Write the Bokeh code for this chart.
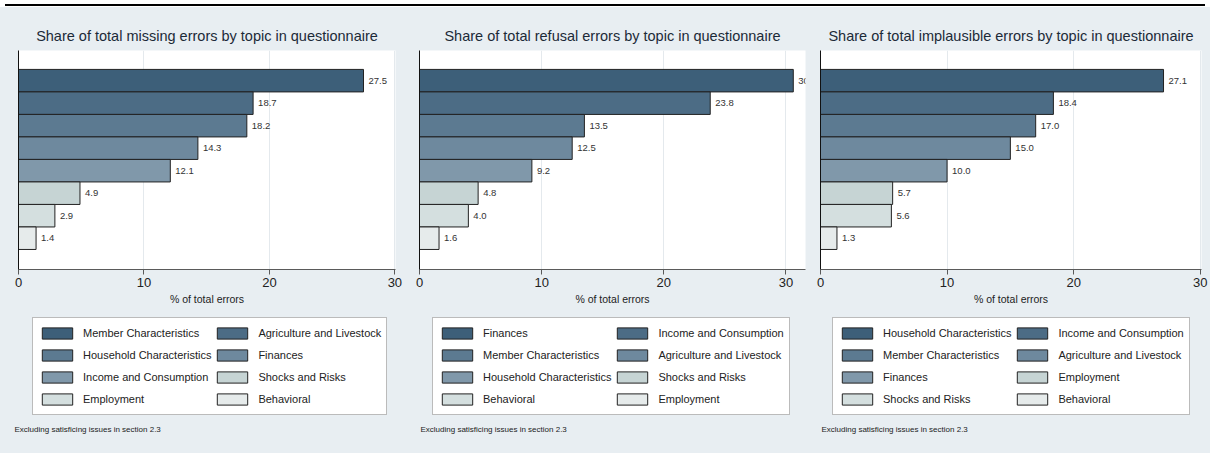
from bokeh.plotting import figure
from bokeh.models import (Range1d, FixedTicker, Legend, LegendItem, Label,
                          ColumnDataSource, Div)
from bokeh.layouts import row, column
from bokeh.embed import file_html
from bokeh.resources import INLINE
from bokeh.core.properties import value

# ---- data -------------------------------------------------------------
missing_topics = ["Member Characteristics", "Agriculture and Livestock",
                  "Household Characteristics", "Finances",
                  "Income and Consumption", "Shocks and Risks",
                  "Employment", "Behavioral"]
missing_share = [27.5, 18.7, 18.2, 14.3, 12.1, 4.9, 2.9, 1.4]

refusal_topics = ["Finances", "Income and Consumption",
                  "Member Characteristics", "Agriculture and Livestock",
                  "Household Characteristics", "Shocks and Risks",
                  "Behavioral", "Employment"]
refusal_share = [30.6, 23.8, 13.5, 12.5, 9.2, 4.8, 4.0, 1.6]

implausible_topics = ["Household Characteristics", "Income and Consumption",
                      "Member Characteristics", "Agriculture and Livestock",
                      "Finances", "Employment", "Shocks and Risks",
                      "Behavioral"]
implausible_share = [27.1, 18.4, 17.0, 15.0, 10.0, 5.7, 5.6, 1.3]

x_ticks = [0, 10, 20, 30]
note = "Excluding satisficing issues in section 2.3"

# ---- style ------------------------------------------------------------
FONT = "Liberation Sans"
BG = "#e8eef2"
INK = "#222222"
PALETTE = ["#3d5f79", "#4c6c85", "#5c7a91", "#6e899e",
           "#8098aa", "#c6d4d4", "#d4dfdf", "#e6ebeb"]


def make_source(topics, shares):
    return ColumnDataSource(dict(
        y=list(range(len(topics))), share=shares, topic=topics,
        color=PALETTE[:len(topics)],
        label=[f"{v:.1f}" for v in shares]))


def chart(title, src, width, x_end, left, right):
    p = figure(width=width, height=309,
               x_range=Range1d(0, x_end), y_range=Range1d(8.39, -1.34),
               output_backend="svg", toolbar_location=None,
               min_border_left=left, min_border_right=right,
               min_border_top=43, min_border_bottom=47,
               background_fill_color="white", border_fill_color=BG,
               outline_line_color=None, margin=0, frame_align=False)
    p.title.text = title
    p.title.align = "center"
    p.title.text_font = FONT
    p.title.text_font_size = "14.5px"
    p.title.text_font_style = "normal"
    p.title.text_color = "#1c2a38"
    p.title.standoff = 13

    p.hbar(y="y", left=0, right="share", height=1,
           fill_color="color", line_color=INK, line_width=1, source=src)
    p.text(x="share", y="y", text="label", x_offset=5,
           text_baseline="middle", text_font=value(FONT),
           text_font_size="9.5px", text_color="#333333", source=src)

    ax = p.xaxis[0]
    ax.ticker = FixedTicker(ticks=x_ticks)
    ax.axis_label = "% of total errors"
    ax.axis_label_text_font = FONT
    ax.axis_label_text_font_size = "10.5px"
    ax.axis_label_text_font_style = "normal"
    ax.axis_label_text_color = INK
    ax.axis_label_standoff = 3
    ax.major_label_text_font = FONT
    ax.major_label_text_font_size = "13px"
    ax.major_label_text_color = INK
    ax.major_label_standoff = 3
    ax.major_tick_in = 0
    ax.major_tick_out = 5
    ax.minor_tick_line_color = None
    ax.axis_line_color = "#5a5a5a"
    ax.major_tick_line_color = "#5a5a5a"

    ay = p.yaxis[0]
    ay.ticker = FixedTicker(ticks=[])
    ay.major_label_text_font_size = "0px"
    ay.major_tick_line_color = None
    ay.minor_tick_line_color = None
    ay.axis_line_color = "#111111"

    p.xgrid.ticker = FixedTicker(ticks=x_ticks)
    p.xgrid.grid_line_color = "#e4e9ed"
    p.ygrid.visible = False
    return p


def key(src, topics, width, box_left, note_left):
    # legend panel; its swatch renderer sits outside the visible ranges
    k = figure(width=width, height=137,
               x_range=Range1d(-100, -99), y_range=Range1d(-100, -99),
               x_axis_location=None, y_axis_location=None,
               output_backend="svg", toolbar_location=None,
               min_border=0, min_border_left=0, min_border_right=0,
               min_border_top=0, min_border_bottom=0,
               background_fill_color=BG, border_fill_color=BG,
               outline_line_color=None, margin=0, frame_align=False)
    k.grid.visible = False
    swatch = k.hbar(y="y", left=0, right="share", height=1,
                    fill_color="color", line_color=INK, line_width=1,
                    source=src)
    n = len(topics)
    order = list(range(0, n, 2)) + list(range(1, n, 2))
    items = [LegendItem(label=topics[i], renderers=[swatch], index=i)
             for i in order]
    legend = Legend(items=items, nrows=4, orientation="vertical",
                    location=(box_left, 38),
                    border_line_color="#777777", border_line_width=1,
                    background_fill_color="white", background_fill_alpha=1,
                    glyph_width=38, glyph_height=14, label_standoff=7,
                    label_text_font=FONT, label_text_font_size="11px",
                    label_text_color=INK,
                    label_height=20, spacing=2, padding=5, margin=0)
    k.add_layout(legend, "center")
    k.add_layout(Label(x=note_left, y=24, x_units="screen", y_units="screen",
                       text=note, text_font=FONT, text_font_size="8px",
                       text_baseline="middle", text_color=INK))
    return k


panels = [
    ("Share of total missing errors by topic in questionnaire",
     missing_topics, missing_share, 403, 30.05, 18, 8, 32, 14),
    ("Share of total refusal errors by topic in questionnaire",
     refusal_topics, refusal_share, 403, 31.6, 16, 1, 29, 17),
    ("Share of total implausible errors by topic in questionnaire",
     implausible_topics, implausible_share, 404, 30.1, 14, 9, 26, 15),
]

cols = []
for title, topics, shares, w, x_end, left, right, box_left, note_left in panels:
    src = make_source(topics, shares)
    cols.append(column(chart(title, src, w, x_end, left, right),
                       key(src, topics, w, box_left, note_left), spacing=0,
                       styles={"background-color": BG}))

rule = Div(text='<div style="position:absolute;left:5px;top:4px;'
                'width:1200px;height:2px;background:#000"></div>',
           width=1210, height=7, margin=0)

panel_row = row(*cols, spacing=0, styles={"background-color": BG})
layout = column(rule, panel_row, spacing=0)
open("out.html", "w").write(file_html(layout, INLINE))
